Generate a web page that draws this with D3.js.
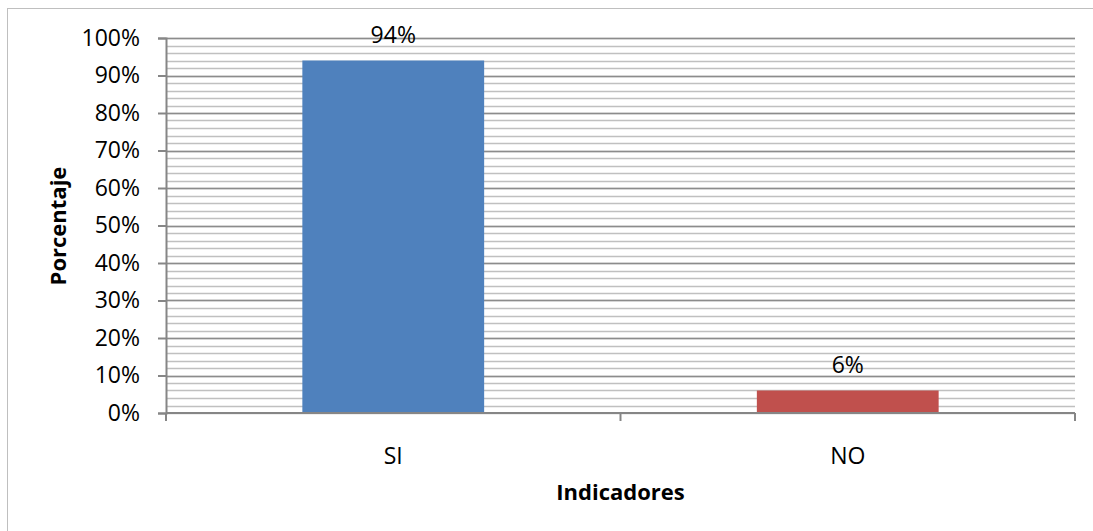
<!DOCTYPE html>
<html>
<head>
<meta charset="utf-8">
<script src="https://cdn.jsdelivr.net/npm/d3@7"></script>
<style>
  html, body { margin: 0; background: #fff; overflow: hidden; }
  svg { display: block; }
  text { font-family: "Open Sans", "Liberation Sans", sans-serif; fill: #000; }
</style>
</head>
<body>
<div class="container"></div>
<script>
// chart values
var categories = ["SI", "NO"];
var values = [0.94, 0.06];
var barColors = ["#4f81bd", "#c0504d"];
var yTicks = [0, 0.1, 0.2, 0.3, 0.4, 0.5, 0.6, 0.7, 0.8, 0.9, 1];
var minorTicks = d3.range(0, 51).map(function(i) { return i / 50; });

var width = 1093, height = 531;
var margin = {top: 38, right: 18, bottom: 118, left: 166};

var svg = d3.select(".container").append("svg")
    .attr("width", width)
    .attr("height", height);

// outer chart frame (runs off the right and bottom of the picture)
svg.append("rect")
    .attr("x", 7.5).attr("y", 8.5)
    .attr("width", width + 40).attr("height", height + 40)
    .attr("fill", "#fff")
    .attr("stroke", "#bfbfbf")
    .attr("stroke-width", 1);

var x = d3.scaleBand()
    .domain(categories)
    .range([margin.left, width - margin.right])
    .paddingInner(0.6)
    .paddingOuter(0.3);

var y = d3.scaleLinear()
    .domain([0, 1])
    .range([height - margin.bottom, margin.top]);

var g = svg.append("g");

// minor gridlines every 2%
g.selectAll(".minor")
    .data(minorTicks)
  .enter().append("line")
    .attr("x1", margin.left).attr("x2", width - margin.right)
    .attr("y1", function(d) { return Math.round(y(d)) + 0.5; })
    .attr("y2", function(d) { return Math.round(y(d)) + 0.5; })
    .attr("stroke", "#c0c0c0")
    .attr("stroke-width", 1.5);

// major gridlines every 10%
g.selectAll(".major")
    .data(yTicks.slice(1))
  .enter().append("line")
    .attr("x1", margin.left).attr("x2", width - margin.right)
    .attr("y1", function(d) { return Math.round(y(d)) + 0.5; })
    .attr("y2", function(d) { return Math.round(y(d)) + 0.5; })
    .attr("stroke", "#8c8c8c")
    .attr("stroke-width", 1.5);

// bars
g.selectAll(".bar")
    .data(values)
  .enter().append("rect")
    .attr("x", function(d, i) { return x(categories[i]); })
    .attr("y", function(d) { return y(d); })
    .attr("width", x.bandwidth())
    .attr("height", function(d) { return y(0) - y(d); })
    .attr("fill", function(d, i) { return barColors[i]; });

// value labels
g.selectAll(".lbl")
    .data(values)
  .enter().append("text")
    .attr("x", function(d, i) { return x(categories[i]) + x.bandwidth() / 2; })
    .attr("y", function(d) { return y(d) - 18; })
    .attr("text-anchor", "middle")
    .style("font-size", "23px")
    .text(function(d) { return Math.round(d * 100) + "%"; });

// y axis
var yAxis = d3.axisLeft(y)
    .tickValues(yTicks)
    .tickSize(8)
    .tickPadding(18)
    .tickFormat(d3.format(".0%"));
var ya = svg.append("g")
    .attr("transform", "translate(" + margin.left + ",0)")
    .call(yAxis);
ya.select(".domain").attr("stroke", "#868686").attr("stroke-width", 2);
ya.selectAll(".tick line").attr("stroke", "#868686").attr("stroke-width", 2);
ya.selectAll("text").style("font-size", "23px").attr("fill", "#000");

// x axis with ticks at category boundaries
var xa = svg.append("g")
    .attr("transform", "translate(0," + y(0) + ")");
xa.append("line")
    .attr("x1", margin.left).attr("x2", width - margin.right)
    .attr("stroke", "#868686").attr("stroke-width", 2);
var step = (width - margin.right - margin.left) / categories.length;
xa.selectAll(".xt")
    .data(d3.range(categories.length + 1))
  .enter().append("line")
    .attr("x1", function(i) { return margin.left + i * step; })
    .attr("x2", function(i) { return margin.left + i * step; })
    .attr("y1", 0).attr("y2", 8)
    .attr("stroke", "#868686").attr("stroke-width", 2);
xa.selectAll(".xl")
    .data(categories)
  .enter().append("text")
    .attr("x", function(d) { return x(d) + x.bandwidth() / 2; })
    .attr("y", 51)
    .attr("text-anchor", "middle")
    .style("font-size", "23px")
    .text(function(d) { return d; });

// axis titles
svg.append("text")
    .attr("x", (margin.left + width - margin.right) / 2)
    .attr("y", 500)
    .attr("text-anchor", "middle")
    .style("font-size", "22px")
    .style("font-weight", "bold")
    .text("Indicadores");

svg.append("text")
    .attr("transform", "translate(66,226) rotate(-90)")
    .attr("text-anchor", "middle")
    .style("font-size", "22px")
    .style("font-weight", "bold")
    .text("Porcentaje");
</script>
</body>
</html>
